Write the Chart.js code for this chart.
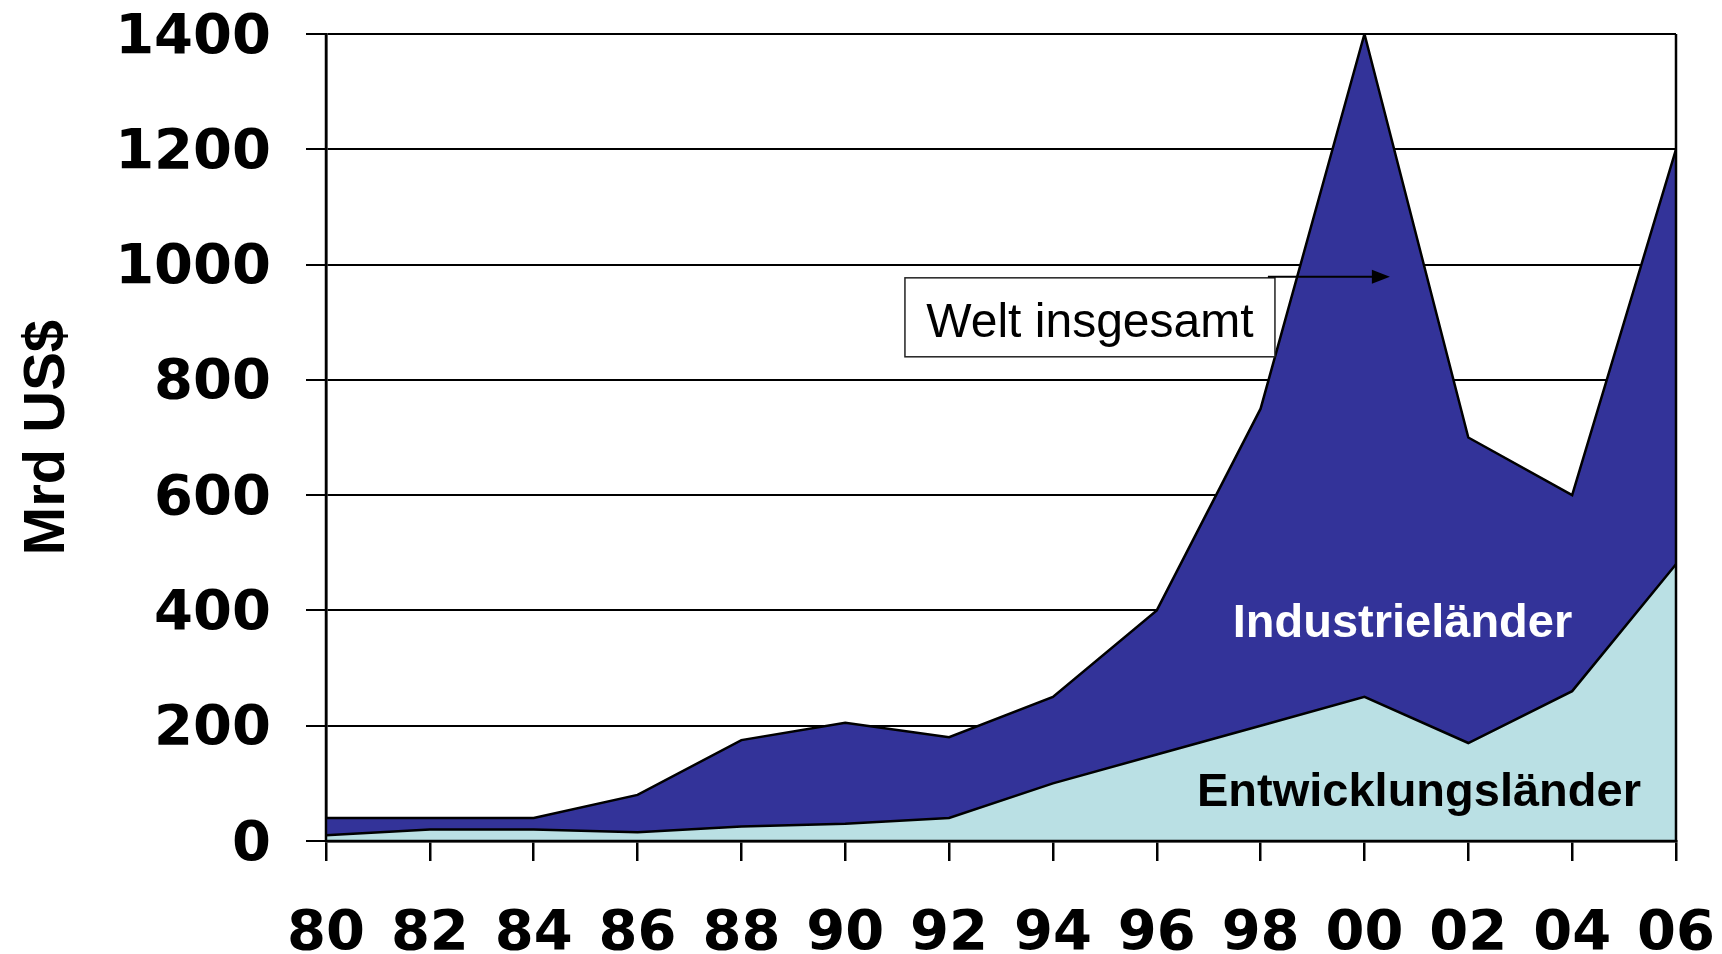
<!DOCTYPE html>
<html>
<head>
<meta charset="utf-8">
<title>Welt insgesamt</title>
<script src="https://cdn.jsdelivr.net/npm/chart.js@4.4.0/dist/chart.umd.min.js"></script>
<style>
  body { margin: 0; background: #fff; }
  #wrap { width: 1722px; height: 954px; }
</style>
</head>
<body>
<div id="wrap"><canvas id="fdiChart"></canvas></div>
<script>
const years = ["80", "82", "84", "86", "88", "90", "92", "94", "96", "98", "00", "02", "04", "06"];
const entwicklungslaender = [10, 20, 20, 15, 25, 30, 40, 100, 150, 200, 250, 170, 260, 480];
const weltInsgesamt = [40, 40, 40, 80, 175, 205, 180, 250, 400, 750, 1400, 700, 600, 1200];
const yTicks = [0, 200, 400, 600, 800, 1000, 1200, 1400];

const tickFont = { family: '"DejaVu Sans", sans-serif', size: 56, weight: 'bold' };

// text placed inside the plot, in scale units (x = category index, y = value)
const notes = {
  box: { x0: 5.575, x1: 9.138, top: 977, bottom: 840 },
  arrow: { x0: 9.07, x1: 10.245, y: 979 },
  industrie: { x: 10.366, y: 354 },
  entwicklung: { x: 10.525, y: 60 }
};

const notesPlugin = {
  id: 'notes',
  afterDatasetsDraw(chart) {
    const ctx = chart.ctx;
    const x = chart.scales.x;
    const y = chart.scales.y;
    const area = chart.chartArea;
    ctx.save();

    // axis lines and right edge over the fills
    ctx.strokeStyle = '#000';
    ctx.lineWidth = 2.5;
    ctx.beginPath();
    ctx.moveTo(area.left, area.top);
    ctx.lineTo(area.left, area.bottom);
    ctx.lineTo(area.right, area.bottom);
    ctx.lineTo(area.right, area.top);
    ctx.stroke();

    // "Welt insgesamt" box
    const bx0 = x.getPixelForValue(notes.box.x0);
    const bx1 = x.getPixelForValue(notes.box.x1);
    const by0 = y.getPixelForValue(notes.box.top);
    const by1 = y.getPixelForValue(notes.box.bottom);
    ctx.fillStyle = '#fff';
    ctx.fillRect(bx0, by0, bx1 - bx0, by1 - by0);
    ctx.lineWidth = 1.5;
    ctx.strokeStyle = '#222';
    ctx.strokeRect(bx0, by0, bx1 - bx0, by1 - by0);
    ctx.fillStyle = '#000';
    ctx.font = '48px "Liberation Sans", Arial, sans-serif';
    ctx.textAlign = 'center';
    ctx.textBaseline = 'alphabetic';
    ctx.fillText('Welt insgesamt', (bx0 + bx1) / 2, by1 - 20);

    // arrow
    const ax0 = x.getPixelForValue(notes.arrow.x0);
    const ax1 = x.getPixelForValue(notes.arrow.x1);
    const ay = y.getPixelForValue(notes.arrow.y);
    ctx.strokeStyle = '#000';
    ctx.lineWidth = 2;
    ctx.beginPath();
    ctx.moveTo(ax0, ay);
    ctx.lineTo(ax1 - 15, ay);
    ctx.stroke();
    ctx.beginPath();
    ctx.moveTo(ax1, ay);
    ctx.lineTo(ax1 - 18, ay - 7);
    ctx.lineTo(ax1 - 18, ay + 7);
    ctx.closePath();
    ctx.fill();

    // area labels
    ctx.font = 'bold 47px "Liberation Sans", Arial, sans-serif';
    ctx.fillStyle = '#fff';
    ctx.fillText('Industrieländer', x.getPixelForValue(notes.industrie.x), y.getPixelForValue(notes.industrie.y));
    ctx.fillStyle = '#000';
    ctx.fillText('Entwicklungsländer', x.getPixelForValue(notes.entwicklung.x), y.getPixelForValue(notes.entwicklung.y));

    ctx.restore();
  }
};

function drawChart() {
  const ctx = document.getElementById("fdiChart").getContext("2d");

  window.chart = new Chart(ctx, {
    type: 'line',
    data: {
      labels: years,
      datasets: [
        {
          label: 'Entwicklungsländer',
          data: entwicklungslaender,
          fill: 'origin',
          backgroundColor: '#BAE0E4',
          borderColor: '#000',
          borderWidth: 2.5,
          pointRadius: 0,
          tension: 0
        },
        {
          label: 'Welt insgesamt',
          data: weltInsgesamt,
          fill: '-1',
          backgroundColor: '#333399',
          borderColor: '#000',
          borderWidth: 2.5,
          pointRadius: 0,
          tension: 0
        }
      ]
    },
    options: {
      responsive: true,
      maintainAspectRatio: false,
      animation: false,
      layout: { padding: { left: 0, right: 46, top: 34, bottom: 0 } },
      plugins: {
        legend: { display: false },
        tooltip: { enabled: false }
      },
      scales: {
        x: {
          offset: false,
          grid: {
            drawOnChartArea: false,
            color: 'rgba(0,0,0,0)',
            tickColor: '#000',
            tickLength: 20,
            lineWidth: 2.5
          },
          border: { display: true, color: '#000', width: 2.5 },
          ticks: {
            color: '#000',
            font: tickFont,
            padding: 40,
            maxRotation: 0,
            autoSkip: false
          },
          afterFit: (scale) => {
            scale.height = 113;
            scale.paddingLeft = 0;
            scale.paddingRight = 0;
          }
        },
        y: {
          min: 0,
          max: 1400,
          afterBuildTicks: (scale) => { scale.ticks = yTicks.map(v => ({ value: v })); },
          grid: { color: '#000', lineWidth: 2, tickLength: 20 },
          border: { display: true, color: '#000', width: 2.5 },
          ticks: {
            color: '#000',
            font: tickFont,
            padding: 35,
            labelOffset: 4,
            callback: (value) => String(value)
          },
          title: {
            display: true,
            text: 'Mrd US$',
            color: '#000',
            font: { family: '"Liberation Sans", Arial, sans-serif', size: 58, weight: 'bold' },
            padding: { top: 13, bottom: 0 }
          },
          afterFit: (scale) => {
            scale.width = 326;
            scale.paddingTop = 0;
            scale.paddingBottom = 0;
          }
        }
      }
    },
    plugins: [notesPlugin]
  });
}

window.onload = function () {
  drawChart();
};
</script>
</body>
</html>
